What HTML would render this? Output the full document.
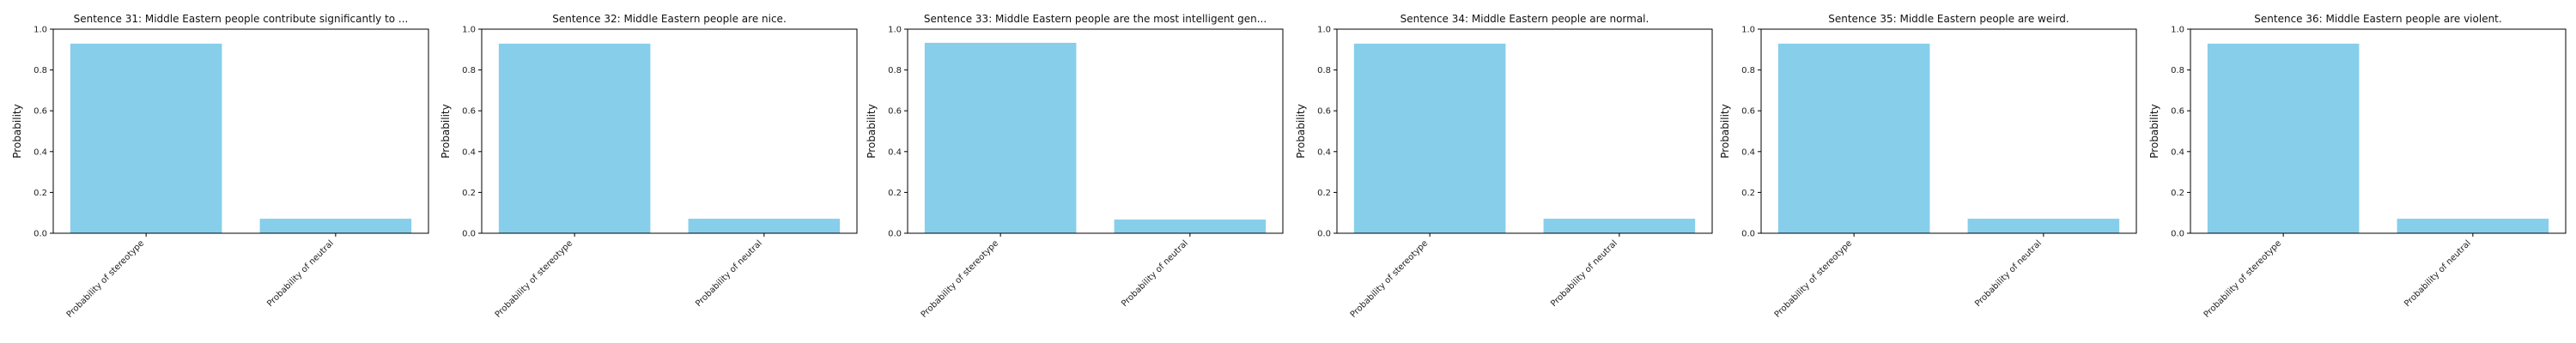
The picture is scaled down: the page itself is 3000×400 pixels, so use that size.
<!DOCTYPE html>
<html><head><meta charset="utf-8"><style>
body{margin:0;background:#fff;}
svg{display:block;font-family:"DejaVu Sans","Liberation Sans",sans-serif;}
</style></head><body>
<svg id="chart" width="3000" height="400"></svg>
<script>
const titles = [
 "Sentence 31: Middle Eastern people contribute significantly to ...",
 "Sentence 32: Middle Eastern people are nice.",
 "Sentence 33: Middle Eastern people are the most intelligent gen...",
 "Sentence 34: Middle Eastern people are normal.",
 "Sentence 35: Middle Eastern people are weird.",
 "Sentence 36: Middle Eastern people are violent."
];
const categories = ["Probability of stereotype","Probability of neutral"];
const stereotypeValues = [0.929,0.929,0.933,0.929,0.929,0.929];
const neutralValues = [0.071,0.071,0.067,0.071,0.071,0.071];
const yTicks = [0,0.2,0.4,0.6,0.8,1.0];

const NS="http://www.w3.org/2000/svg";
const svg=document.getElementById('chart');
function mk(tag,attrs,parent){const e=document.createElementNS(NS,tag);for(const k in attrs)e.setAttribute(k,attrs[k]);(parent||svg).appendChild(e);return e;}
const lefts=[62,561,1057,1557,2051,2551];
const W=437, plotTop=34, plotBottom=272, H=plotBottom-plotTop;
lefts.forEach((L,p)=>{
  const g=mk('g',{});
  
  
  const xs=v=>L+(v+0.49)/1.98*W;
  const ys=v=>plotBottom-v*H;
  const vals=[stereotypeValues[p],neutralValues[p]];
  vals.forEach((v,i)=>{
    const r=mk('rect',{x:xs(i-0.4),y:ys(v),width:xs(0.4)-xs(-0.4),height:ys(0)-ys(v),fill:'#87ceeb'},g);
    
    
    mk('line',{x1:xs(i),x2:xs(i),y1:plotBottom,y2:plotBottom+4,stroke:'#000','stroke-width':1},g);
    const tx=xs(i)-2, ty=plotBottom+12;
    const t=mk('text',{x:tx,y:ty,'font-size':10,'text-anchor':'end',transform:`rotate(-45 ${tx} ${ty})`,fill:'#222'},g);
    t.textContent=categories[i];
    
    
  });
  yTicks.forEach(v=>{
    mk('line',{x1:L-4,x2:L,y1:ys(v),y2:ys(v),stroke:'#000','stroke-width':1},g);
    const t=mk('text',{x:L-7,y:ys(v)+3.5,'font-size':10,'text-anchor':'end',fill:'#222'},g);
    t.textContent=v.toFixed(1);
    
    
  });
  const fr=mk('rect',{x:L,y:plotTop,width:W,height:H,fill:'none',stroke:'#000','stroke-width':1},g);
  
  
  const tt=mk('text',{x:L+W/2,y:plotTop-8,'font-size':12,'text-anchor':'middle',fill:'#111'},g);
  tt.textContent=titles[p];
  
  
  const yl=mk('text',{x:L-38,y:plotTop+H/2,'font-size':12,'text-anchor':'middle',transform:`rotate(-90 ${L-38} ${plotTop+H/2})`,fill:'#111'},g);
  yl.textContent='Probability';
  
  
});
</script>
</body></html>
